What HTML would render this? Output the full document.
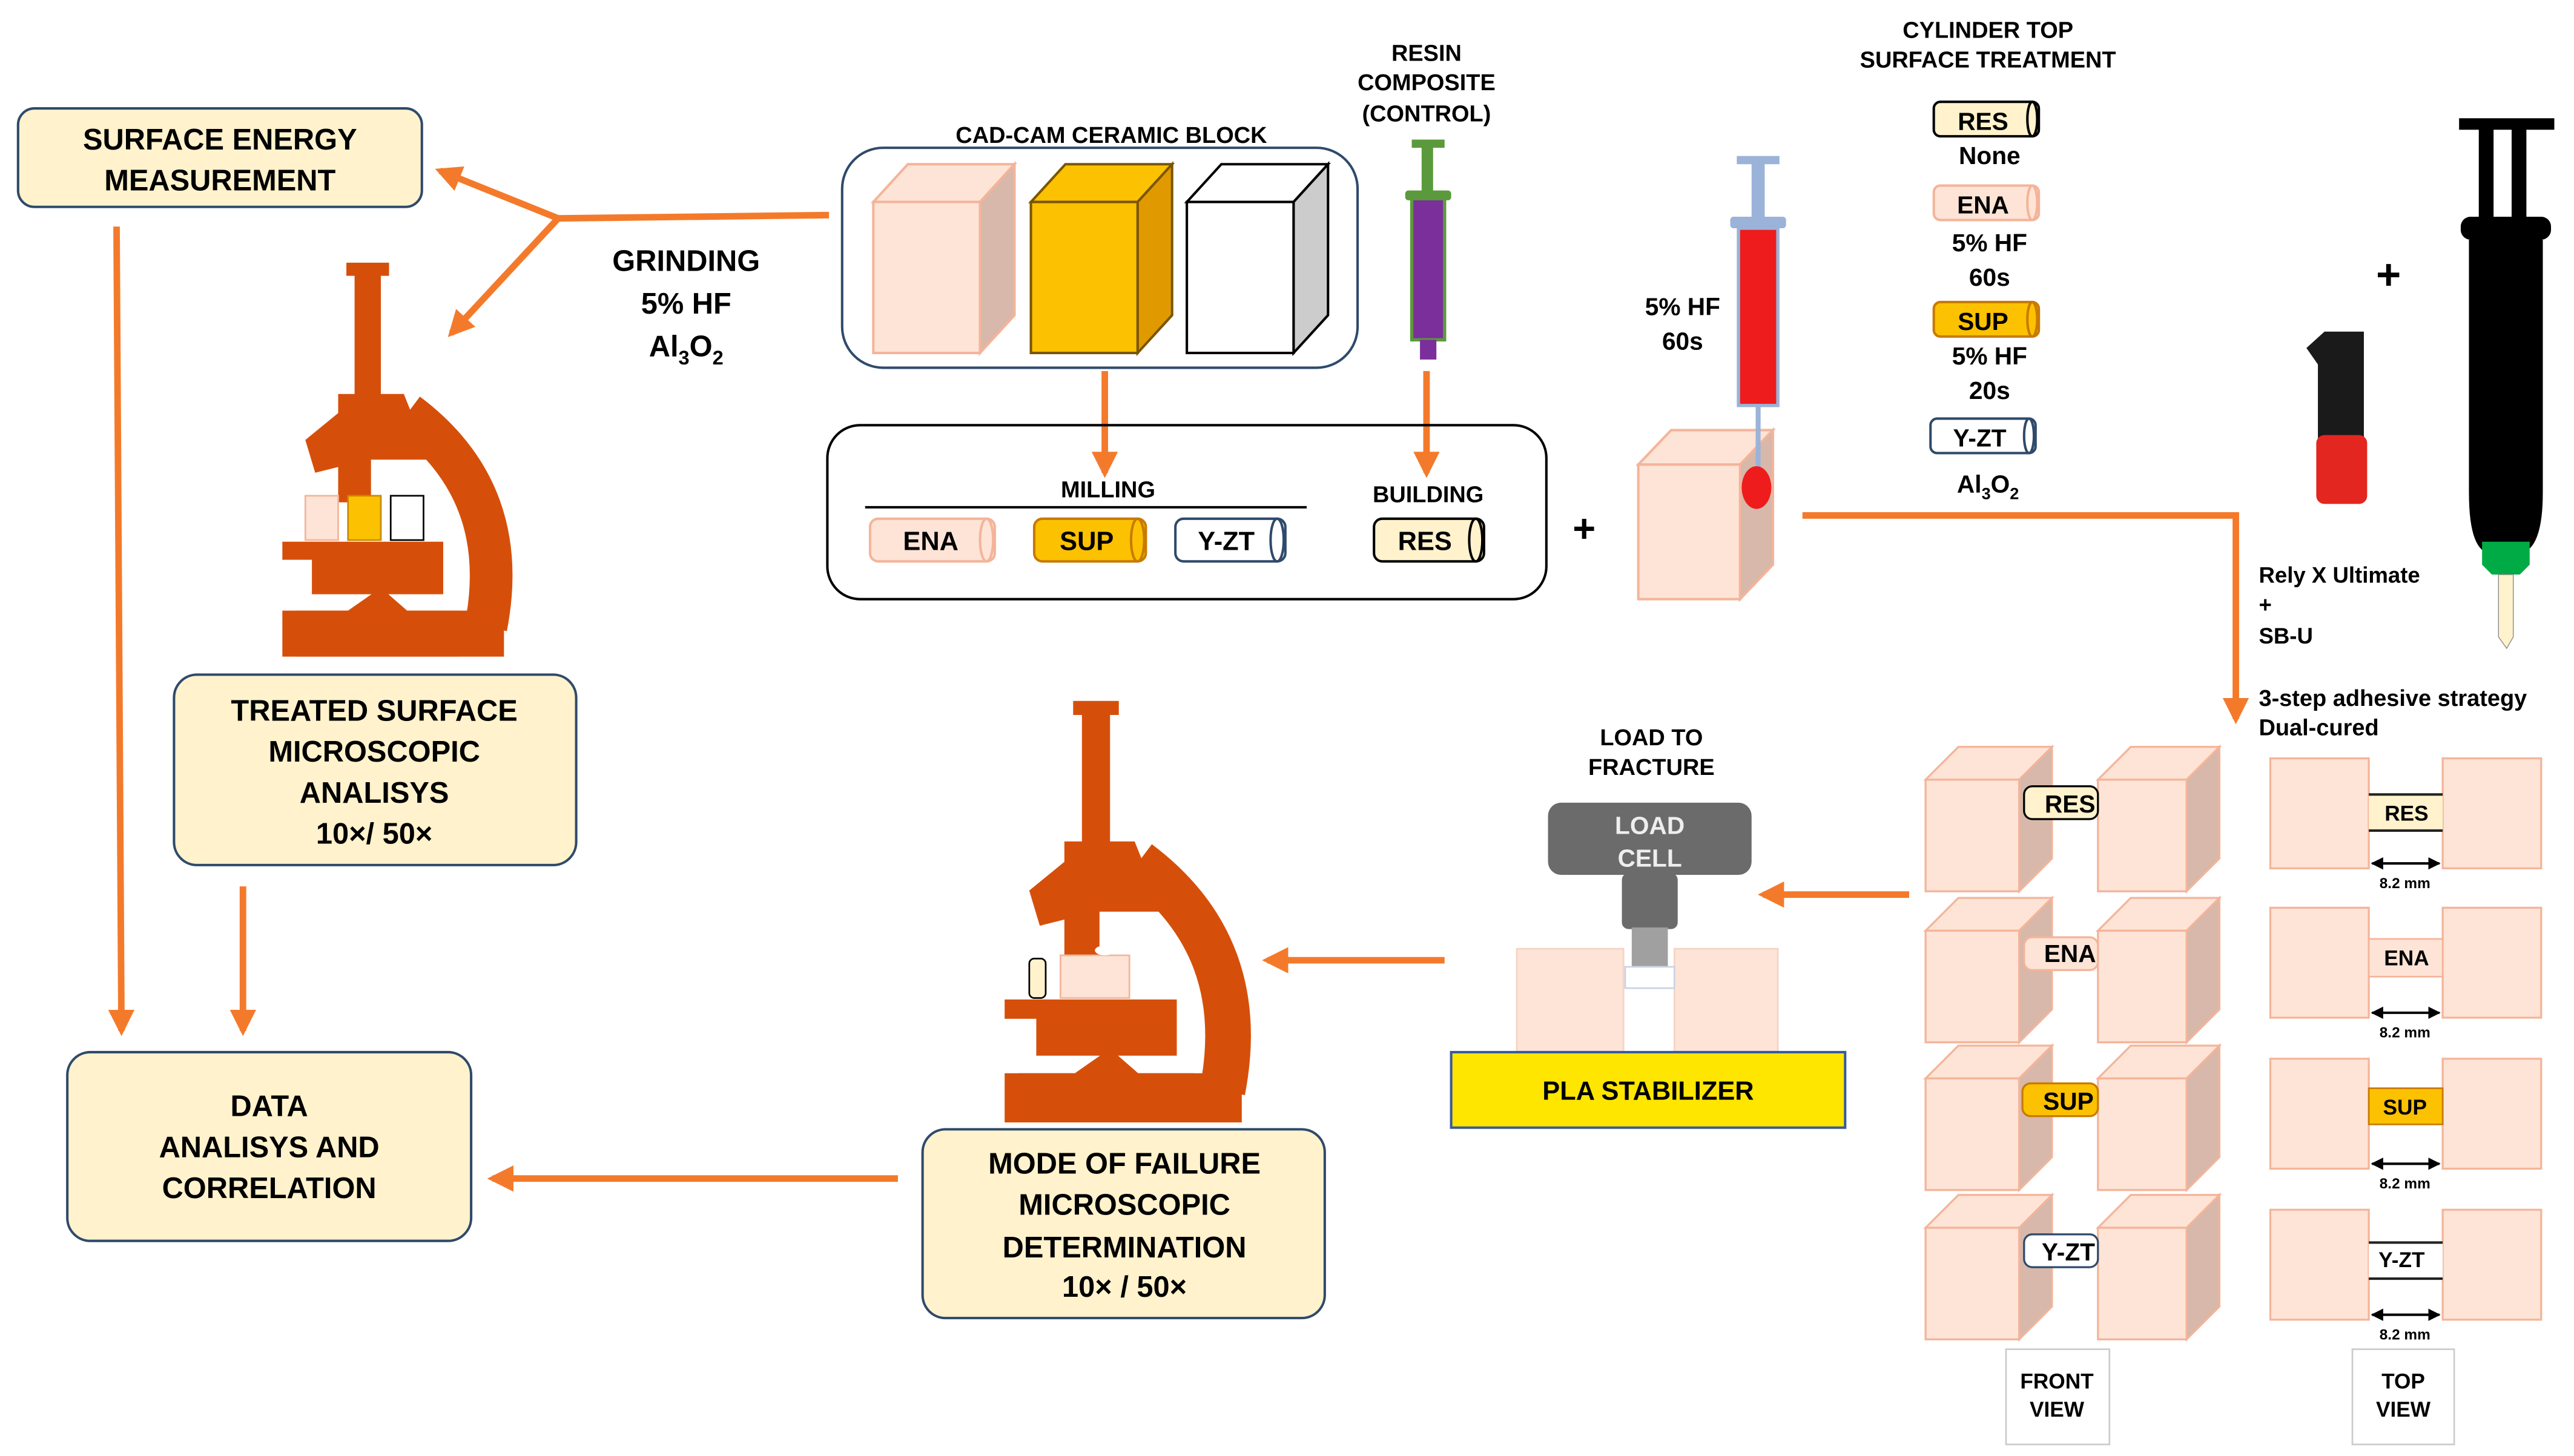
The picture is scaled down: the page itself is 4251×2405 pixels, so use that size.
<!DOCTYPE html>
<html><head><meta charset="utf-8"><style>
html,body{margin:0;padding:0;background:#fff;width:4251px;height:2405px;overflow:hidden}
svg{display:block}
text{font-family:"Liberation Sans",Arial,sans-serif;font-weight:bold;fill:#000}
</style></head><body>
<svg width="4251" height="2405" viewBox="0 0 1568 887" xmlns="http://www.w3.org/2000/svg">
<defs>
<marker id="ah" viewBox="0 0 10 10" refX="8" refY="5" markerWidth="4" markerHeight="4" orient="auto"><path d="M0,0L10,5L0,10z" fill="#f47a2b"/></marker>
<marker id="bk" viewBox="0 0 10 10" refX="9" refY="5" markerWidth="5" markerHeight="5" orient="auto-start-reverse"><path d="M0,0L10,5L0,10z" fill="#000"/></marker>
<g id="mic">
  <rect x="211" y="160" width="26" height="8" fill="#d64f0a"/>
  <rect x="216" y="166" width="16" height="76" fill="#d64f0a"/>
  <polygon points="206,240 246,240 262,280 206,280" fill="#d64f0a"/>
  <polygon points="186,268 208,250 216,282 192,288" fill="#d64f0a"/>
  <rect x="206" y="278" width="20" height="28" fill="#d64f0a"/>
  <path d="M248,252 Q312,300 296,382" stroke="#d64f0a" stroke-width="26" fill="none"/>
  <rect x="172" y="330" width="98" height="11" fill="#d64f0a"/>
  <rect x="190" y="340" width="80" height="22" fill="#d64f0a"/>
  <polygon points="172,400 307,400 307,372 248,372 232,358 212,372 172,372" fill="#d64f0a"/>
  <rect x="180" y="372" width="100" height="28" fill="#d64f0a"/>
</g>
</defs>

<!-- Surface energy -->
<rect x="11" y="66" width="246" height="60" rx="10" fill="#fff2cc" stroke="#2f4a6b" stroke-width="1.5"/>
<text x="134" y="91" font-size="18" text-anchor="middle">SURFACE ENERGY</text>
<text x="134" y="116" font-size="18" text-anchor="middle">MEASUREMENT</text>

<!-- grinding arrows -->
<g stroke="#f47a2b" stroke-width="4" fill="none">
<line x1="505" y1="131" x2="340" y2="133"/>
<line x1="340" y1="133" x2="268" y2="104" marker-end="url(#ah)"/>
<line x1="340" y1="133" x2="275" y2="203" marker-end="url(#ah)"/>
<line x1="71" y1="138" x2="74" y2="628" marker-end="url(#ah)"/>
<line x1="148" y1="540" x2="148" y2="628" marker-end="url(#ah)"/>
<line x1="547" y1="718" x2="300" y2="718" marker-end="url(#ah)"/>
<line x1="880" y1="585" x2="772" y2="585" marker-end="url(#ah)"/>
<line x1="1163" y1="545" x2="1074" y2="545" marker-end="url(#ah)"/>
<line x1="673" y1="226" x2="673" y2="288" marker-end="url(#ah)"/>
<line x1="869" y1="226" x2="869" y2="288" marker-end="url(#ah)"/>
<polyline points="1098,314 1362,314 1362,438" marker-end="url(#ah)"/>
</g>
<text x="418" y="165" font-size="18" text-anchor="middle">GRINDING</text>
<text x="418" y="191" font-size="18" text-anchor="middle">5% HF</text>
<text x="418" y="217" font-size="18" text-anchor="middle">Al<tspan font-size="12" dy="5">3</tspan><tspan dy="-5">O</tspan><tspan font-size="12" dy="5">2</tspan></text>

<!-- microscope 1 -->
<use href="#mic"/>
<rect x="186" y="302" width="20" height="27" fill="#fde4d6" stroke="#f4b49a"/>
<rect x="212" y="302" width="20" height="27" fill="#fcc100" stroke="#c88a00"/>
<rect x="238" y="302" width="20" height="27" fill="#fff" stroke="#000"/>

<rect x="106" y="411" width="245" height="116" rx="14" fill="#fff2cc" stroke="#2f4a6b" stroke-width="1.5"/>
<text x="228" y="439" font-size="18" text-anchor="middle">TREATED SURFACE</text>
<text x="228" y="464" font-size="18" text-anchor="middle">MICROSCOPIC</text>
<text x="228" y="489" font-size="18" text-anchor="middle">ANALISYS</text>
<text x="228" y="514" font-size="18" text-anchor="middle">10×/ 50×</text>

<rect x="41" y="641" width="246" height="115" rx="14" fill="#fff2cc" stroke="#2f4a6b" stroke-width="1.5"/>
<text x="164" y="680" font-size="18" text-anchor="middle">DATA</text>
<text x="164" y="705" font-size="18" text-anchor="middle">ANALISYS AND</text>
<text x="164" y="730" font-size="18" text-anchor="middle">CORRELATION</text>

<!-- microscope 2 -->
<g transform="translate(612,427) scale(1.07) translate(-172,-160)"><use href="#mic"/></g>
<rect x="627" y="584" width="10" height="24" rx="3" fill="#fff2cc" stroke="#000"/>
<rect x="646" y="582" width="42" height="26" fill="#fde4d6" stroke="#f4b49a"/>
<ellipse cx="673" cy="579" rx="6" ry="3" fill="#fff"/>

<rect x="562" y="688" width="245" height="115" rx="14" fill="#fff2cc" stroke="#2f4a6b" stroke-width="1.5"/>
<text x="685" y="715" font-size="18" text-anchor="middle">MODE OF FAILURE</text>
<text x="685" y="740" font-size="18" text-anchor="middle">MICROSCOPIC</text>
<text x="685" y="766" font-size="18" text-anchor="middle">DETERMINATION</text>
<text x="685" y="790" font-size="18" text-anchor="middle">10× / 50×</text>

<!-- CAD-CAM block -->
<text x="677" y="87" font-size="14" text-anchor="middle">CAD-CAM CERAMIC BLOCK</text>
<rect x="513" y="90" width="314" height="134" rx="25" fill="#fff" stroke="#2f4a6b" stroke-width="1.5"/>
<g stroke-width="1.5">
<polygon points="532,123 553,100 618,100 597,123" fill="#fde4d6" stroke="#f4b49a"/>
<polygon points="597,123 618,100 618,192 597,215" fill="#d7b8aa" stroke="#f4b49a"/>
<rect x="532" y="123" width="65" height="92" fill="#fde4d6" stroke="#f4b49a"/>
<polygon points="628,123 649,100 714,100 693,123" fill="#fcc100" stroke="#7a5500"/>
<polygon points="693,123 714,100 714,192 693,215" fill="#e09a00" stroke="#7a5500"/>
<rect x="628" y="123" width="65" height="92" fill="#fcc100" stroke="#7a5500"/>
<polygon points="723,123 744,100 809,100 788,123" fill="#fff" stroke="#000"/>
<polygon points="788,123 809,100 809,192 788,215" fill="#ccc" stroke="#000"/>
<rect x="723" y="123" width="65" height="92" fill="#fff" stroke="#000"/>
</g>

<!-- milling box -->
<rect x="504" y="259" width="438" height="106" rx="20" fill="none" stroke="#000" stroke-width="1.5"/>
<text x="675" y="303" font-size="14" text-anchor="middle">MILLING</text>
<line x1="527" y1="309" x2="796" y2="309" stroke="#000" stroke-width="1.5"/>
<text x="870" y="306" font-size="14" text-anchor="middle">BUILDING</text>
<g stroke-width="1.5">
<rect x="530" y="316" width="76" height="26" rx="5" fill="#fde4d6" stroke="#f4b49a"/><ellipse cx="601" cy="329" rx="4" ry="13" fill="none" stroke="#f4b49a"/>
<rect x="630" y="316" width="68" height="26" rx="5" fill="#fcc100" stroke="#c87a00"/><ellipse cx="693" cy="329" rx="4" ry="13" fill="none" stroke="#c87a00"/>
<rect x="716" y="316" width="67" height="26" rx="5" fill="#fff" stroke="#2f4a6b"/><ellipse cx="778" cy="329" rx="4" ry="13" fill="none" stroke="#2f4a6b"/>
<rect x="837" y="316" width="67" height="26" rx="5" fill="#fff2cc" stroke="#000"/><ellipse cx="899" cy="329" rx="4" ry="13" fill="none" stroke="#000"/>
</g>
<text x="567" y="335" font-size="16" text-anchor="middle">ENA</text>
<text x="662" y="335" font-size="16" text-anchor="middle">SUP</text>
<text x="747" y="335" font-size="16" text-anchor="middle">Y-ZT</text>
<text x="868" y="335" font-size="16" text-anchor="middle">RES</text>

<!-- resin composite syringe -->
<text x="869" y="37" font-size="14" text-anchor="middle">RESIN</text>
<text x="869" y="55" font-size="14" text-anchor="middle">COMPOSITE</text>
<text x="869" y="74" font-size="14" text-anchor="middle">(CONTROL)</text>
<rect x="860" y="85" width="20" height="5" fill="#5b9a3c"/>
<rect x="866" y="89" width="7" height="28" fill="#5b9a3c"/>
<rect x="856" y="116" width="28" height="6" rx="2" fill="#5b9a3c"/>
<rect x="860" y="121" width="20" height="86" fill="#7a2f9a" stroke="#5b9a3c" stroke-width="2"/>
<rect x="865" y="207" width="10" height="12" fill="#7a2f9a"/>

<text x="965" y="330" font-size="24" text-anchor="middle">+</text>

<!-- cube + red syringe -->
<polygon points="998,283 1018,262 1080,262 1060,283" fill="#fde4d6" stroke="#f4b49a" stroke-width="1.5"/>
<polygon points="1060,283 1080,262 1080,344 1060,365" fill="#d7b8aa" stroke="#f4b49a" stroke-width="1.5"/>
<rect x="998" y="283" width="62" height="82" fill="#fde4d6" stroke="#f4b49a" stroke-width="1.5"/>
<rect x="1058" y="95" width="26" height="5" fill="#9bb3d8"/>
<rect x="1067" y="99" width="8" height="34" fill="#9bb3d8"/>
<rect x="1054" y="132" width="34" height="7" rx="2" fill="#9bb3d8"/>
<rect x="1059" y="139" width="24" height="108" fill="#ee1c1c" stroke="#9bb3d8" stroke-width="2"/>
<line x1="1071" y1="247" x2="1071" y2="285" stroke="#9bb3d8" stroke-width="3"/>
<ellipse cx="1070" cy="297" rx="9" ry="13" fill="#ee1c1c"/>
<text x="1025" y="192" font-size="15" text-anchor="middle">5% HF</text>
<text x="1025" y="213" font-size="15" text-anchor="middle">60s</text>

<!-- cylinder top surface treatment -->
<text x="1211" y="23" font-size="14" text-anchor="middle">CYLINDER TOP</text>
<text x="1211" y="41" font-size="14" text-anchor="middle">SURFACE TREATMENT</text>
<g stroke-width="1.5">
<rect x="1178" y="62" width="64" height="21" rx="4" fill="#fff2cc" stroke="#000"/><ellipse cx="1238" cy="72.5" rx="3" ry="10.5" fill="none" stroke="#000"/>
<rect x="1178" y="113" width="64" height="21" rx="4" fill="#fde4d6" stroke="#f4b49a"/><ellipse cx="1238" cy="123.5" rx="3" ry="10.5" fill="none" stroke="#f4b49a"/>
<rect x="1178" y="184" width="64" height="21" rx="4" fill="#fcc100" stroke="#c87a00"/><ellipse cx="1238" cy="194.5" rx="3" ry="10.5" fill="none" stroke="#c87a00"/>
<rect x="1176" y="255" width="64" height="21" rx="4" fill="#fff" stroke="#2f4a6b"/><ellipse cx="1236" cy="265.5" rx="3" ry="10.5" fill="none" stroke="#2f4a6b"/>
</g>
<text x="1208" y="79" font-size="15" text-anchor="middle">RES</text>
<text x="1212" y="100" font-size="15" text-anchor="middle">None</text>
<text x="1208" y="130" font-size="15" text-anchor="middle">ENA</text>
<text x="1212" y="153" font-size="15" text-anchor="middle">5% HF</text>
<text x="1212" y="174" font-size="15" text-anchor="middle">60s</text>
<text x="1208" y="201" font-size="15" text-anchor="middle">SUP</text>
<text x="1212" y="222" font-size="15" text-anchor="middle">5% HF</text>
<text x="1212" y="243" font-size="15" text-anchor="middle">20s</text>
<text x="1206" y="272" font-size="15" text-anchor="middle">Y-ZT</text>
<text x="1211" y="300" font-size="15" text-anchor="middle">Al<tspan font-size="10" dy="4">3</tspan><tspan dy="-4">O</tspan><tspan font-size="10" dy="4">2</tspan></text>

<!-- adhesive devices -->
<text x="1455" y="176" font-size="26" text-anchor="middle">+</text>
<polygon points="1405,212 1416,202 1440,202 1440,272 1412,272 1412,222" fill="#1a1a1a"/>
<rect x="1411" y="265" width="31" height="42" rx="5" fill="#e3261f"/>
<rect x="1498" y="72" width="58" height="7" fill="#000"/>
<rect x="1510" y="78" width="9" height="56" fill="#000"/>
<rect x="1530" y="78" width="9" height="56" fill="#000"/>
<rect x="1499" y="132" width="55" height="14" rx="6" fill="#000"/>
<path d="M1504,146 L1549,146 L1549,300 Q1549,328 1540,335 L1512,335 Q1504,328 1504,300 Z" fill="#000"/>
<polygon points="1512,330 1541,330 1541,344 1535,350 1518,350 1512,344" fill="#00aa44"/>
<polygon points="1522,350 1531,350 1531,388 1527,395 1522,388" fill="#fff2cc" stroke="#888" stroke-width="0.5"/>

<text x="1376" y="355" font-size="13.5">Rely X Ultimate</text>
<text x="1376" y="373" font-size="13.5">+</text>
<text x="1376" y="392" font-size="13.5">SB-U</text>
<text x="1376" y="430" font-size="14">3-step adhesive strategy</text>
<text x="1376" y="448" font-size="14">Dual-cured</text>

<!-- load to fracture -->
<text x="1006" y="454" font-size="14" text-anchor="middle">LOAD TO</text>
<text x="1006" y="472" font-size="14" text-anchor="middle">FRACTURE</text>
<rect x="924" y="578" width="65" height="64" fill="#fde4d6" stroke="#f4d4c4"/>
<rect x="1020" y="578" width="63" height="64" fill="#fde4d6" stroke="#f4d4c4"/>
<rect x="943" y="489" width="124" height="44" rx="8" fill="#6b6b6b"/>
<rect x="988" y="532" width="34" height="34" rx="4" fill="#6b6b6b"/>
<rect x="994" y="565" width="22" height="24" fill="#a0a0a0"/>
<rect x="990" y="589" width="30" height="13" fill="#fff" stroke="#c9d4e6"/>
<text x="1005" y="508" font-size="15" text-anchor="middle" style="fill:#eee">LOAD</text>
<text x="1005" y="528" font-size="15" text-anchor="middle" style="fill:#eee">CELL</text>
<rect x="884" y="641" width="240" height="46" fill="#ffe600" stroke="#3a5a9a" stroke-width="1.5"/>
<text x="1004" y="670" font-size="16" text-anchor="middle">PLA STABILIZER</text>

<!-- front view rows -->
<g stroke="#f4b49a" stroke-width="1.2">
<g id="fr">
<polygon points="1173,475 1193,455 1250,455 1230,475" fill="#fde4d6"/>
<polygon points="1230,475 1250,455 1250,523 1230,543" fill="#d7b8aa"/>
<rect x="1173" y="475" width="57" height="68" fill="#fde4d6"/>
<polygon points="1278,475 1298,455 1352,455 1332,475" fill="#fde4d6"/>
<polygon points="1332,475 1352,455 1352,523 1332,543" fill="#d7b8aa"/>
<rect x="1278" y="475" width="54" height="68" fill="#fde4d6"/>
</g>
<use href="#fr" y="92"/>
<use href="#fr" y="182"/>
<use href="#fr" y="273"/>
</g>
<rect x="1233" y="479" width="45" height="20" rx="5" fill="#fff2cc" stroke="#000" stroke-width="1.2"/>
<rect x="1233" y="571" width="45" height="20" rx="5" fill="#fde4d6" stroke="#f4b49a" stroke-width="1.2"/>
<rect x="1232" y="660" width="46" height="20" rx="5" fill="#fcc100" stroke="#c87a00" stroke-width="1.2"/>
<rect x="1233" y="752" width="45" height="20" rx="5" fill="#fff" stroke="#2f4a6b" stroke-width="1.2"/>
<text x="1261" y="495" font-size="15" text-anchor="middle">RES</text>
<text x="1261" y="586" font-size="15" text-anchor="middle">ENA</text>
<text x="1260" y="676" font-size="15" text-anchor="middle">SUP</text>
<text x="1260" y="768" font-size="15" text-anchor="middle">Y-ZT</text>

<!-- top view rows -->
<g id="tv">
<rect x="1383" y="462" width="60" height="67" fill="#fde4d6" stroke="#f4b49a" stroke-width="1.2"/>
<rect x="1488" y="462" width="60" height="67" fill="#fde4d6" stroke="#f4b49a" stroke-width="1.2"/>
<line x1="1445" y1="526" x2="1486" y2="526" stroke="#000" stroke-width="1.5" marker-start="url(#bk)" marker-end="url(#bk)"/>
<text x="1465" y="541" font-size="9" text-anchor="middle">8.2 mm</text>
</g>
<use href="#tv" y="91"/>
<use href="#tv" y="183"/>
<use href="#tv" y="275"/>
<rect x="1443" y="484" width="45" height="22" fill="#fff2cc"/><line x1="1443" y1="484" x2="1488" y2="484" stroke="#222" stroke-width="1.5"/><line x1="1443" y1="506" x2="1488" y2="506" stroke="#222" stroke-width="1.5"/>
<rect x="1443" y="572" width="45" height="23" fill="#fde4d6" stroke="#f4b49a"/>
<rect x="1443" y="663" width="45" height="22" fill="#fcc100" stroke="#c87a00"/>
<rect x="1443" y="757" width="45" height="22" fill="#fff"/><line x1="1443" y1="757" x2="1488" y2="757" stroke="#222" stroke-width="1.5"/><line x1="1443" y1="779" x2="1488" y2="779" stroke="#222" stroke-width="1.5"/>
<text x="1466" y="500" font-size="13" text-anchor="middle">RES</text>
<text x="1466" y="588" font-size="13" text-anchor="middle">ENA</text>
<text x="1465" y="679" font-size="13" text-anchor="middle">SUP</text>
<text x="1463" y="772" font-size="13" text-anchor="middle">Y-ZT</text>

<rect x="1222" y="822" width="63" height="58" fill="#fff" stroke="#ccc"/>
<text x="1253" y="846" font-size="13" text-anchor="middle">FRONT</text>
<text x="1253" y="863" font-size="13" text-anchor="middle">VIEW</text>
<rect x="1433" y="822" width="62" height="58" fill="#fff" stroke="#ccc"/>
<text x="1464" y="846" font-size="13" text-anchor="middle">TOP</text>
<text x="1464" y="863" font-size="13" text-anchor="middle">VIEW</text>
</svg>
</body></html>
